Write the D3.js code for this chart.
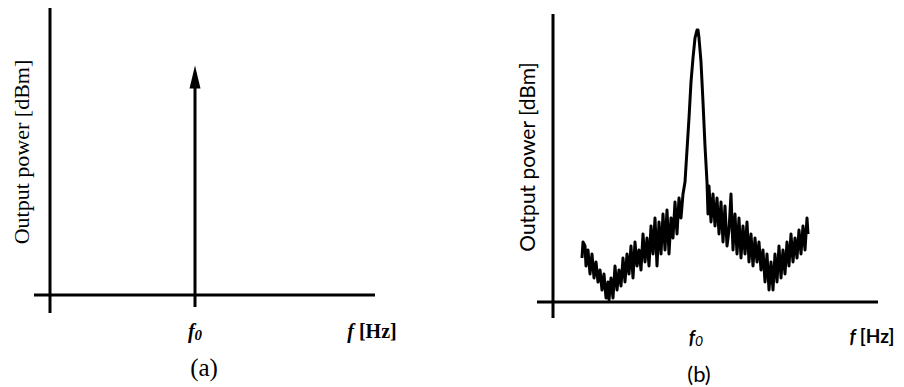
<!DOCTYPE html>
<html>
<head>
<meta charset="utf-8">
<script src="https://cdn.jsdelivr.net/npm/d3@7"></script>
<style>
  html, body { margin: 0; padding: 0; background: #fff; }
  svg { display: block; }
</style>
</head>
<body>
<svg id="chart" width="904" height="387"></svg>
<script>
// (a) ideal oscillator: a single spectral line at f0 (relative level)
const idealLineLevel = 80;

// (b) measured spectrum: offset from f0 (arbitrary frequency units) and output power (relative dB)
const offsetB = [-116,-115,-113,-112,-110,-108,-106,-104,-102,-100,-98,-96,-94,-92,-90,-89,-87,-85,-83,-81,
  -79,-77,-75,-73,-71,-69,-67,-65,-63,-61,-59,-57,-55,-53,-51,-49,-47,-45,-43,-41,
  -39,-37,-35,-33,-31,-29,-27,-25,-23,-21,-19,-17,-15,-13,-11,-9,-7,-5,-3,-1,
  0,1,3,5,7,9,10,11,13,15,17,19,21,23,25,27,29,31,33,35,
  37,39,41,43,45,47,49,51,53,55,57,59,61,63,65,67,69,71,73,75,
  77,79,81,83,85,87,89,91,93,95,97,99,101,103,105,107,109,110];
const powerB = [11,15,14,9,13,7,12,6,10,5,8,3,7,1,5,0.5,6,1,9,3,
  8,4,11,5,12,7,14,6,15,9,13,8,17,10,16,9,19,12,21,9,
  20,12,22,13,23,12,21,16,25,17,26,21,27,30,38,46,55,61,66,68,
  68,66,60,50,39,30,22,29,20,27,19,26,17,25,15,24,14,18,27,13,
  22,12,21,11,19,12,20,10,17,9,16,10,15,8,13,5,12,3,10,3,
  12,5,14,6,13,7,15,9,17,10,16,11,18,12,19,13,21,17];

// axis labels
const yLabel = "Output power [dBm]";
const panelLabels = ["(a)", "(b)"];

const svg = d3.select("#chart");
const ink = "#000";

// ---------- panel (a) ----------
const xa = d3.scaleLinear().domain([-145, 180]).range([50, 375]);
const ya = d3.scaleLinear().domain([0, 100]).range([295, 8]);
const ga = svg.append("g").attr("font-family", "'Liberation Serif', 'Times New Roman', serif");

// axes
ga.append("line").attr("x1", xa(-145)).attr("x2", xa(-145)).attr("y1", ya(100)).attr("y2", ya(0) + 18)
  .attr("stroke", ink).attr("stroke-width", 3);
ga.append("line").attr("x1", xa(-145) - 16).attr("x2", xa(180)).attr("y1", ya(0)).attr("y2", ya(0))
  .attr("stroke", ink).attr("stroke-width", 3);

// spectral line at f0 with arrow head
const headH = 23, headW = 11;
ga.append("line").attr("x1", xa(0)).attr("x2", xa(0)).attr("y1", ya(0) + 12).attr("y2", ya(idealLineLevel) + headH - 2)
  .attr("stroke", ink).attr("stroke-width", 3);
ga.append("path")
  .attr("d", `M${xa(0)},${ya(idealLineLevel)} L${xa(0) + headW / 2},${ya(idealLineLevel) + headH} L${xa(0) - headW / 2},${ya(idealLineLevel) + headH} Z`)
  .attr("fill", ink);

// texts
ga.append("text").attr("transform", `translate(29,152) rotate(-90)`).attr("text-anchor", "middle")
  .attr("font-size", 22).text(yLabel);
const f0a = ga.append("text").attr("x", xa(0)).attr("y", 338).attr("text-anchor", "middle")
  .attr("font-size", 20).attr("font-style", "italic").attr("font-weight", "bold");
f0a.append("tspan").text("f");
f0a.append("tspan").attr("font-size", 15).attr("dy", 2).text("0");
const fha = ga.append("text").attr("x", 372).attr("y", 338).attr("text-anchor", "middle").attr("font-size", 20);
fha.append("tspan").attr("font-style", "italic").attr("font-weight", "bold").text("f ");
fha.append("tspan").attr("font-weight", "bold").text("[Hz]");
ga.append("text").attr("x", 204).attr("y", 376).attr("text-anchor", "middle").attr("font-size", 25).text(panelLabels[0]);

// ---------- panel (b) ----------
const xb = d3.scaleLinear().domain([-145, 180]).range([553, 878]);
const yb = d3.scaleLinear().domain([0, 72]).range([302, 14]);
const gb = svg.append("g").attr("font-family", "Lato, 'Open Sans', sans-serif");

gb.append("line").attr("x1", xb(-145)).attr("x2", xb(-145)).attr("y1", yb(72)).attr("y2", yb(0) + 16)
  .attr("stroke", ink).attr("stroke-width", 3);
gb.append("line").attr("x1", xb(-145) - 16).attr("x2", xb(180)).attr("y1", yb(0)).attr("y2", yb(0))
  .attr("stroke", ink).attr("stroke-width", 3);

const spectrum = offsetB.map((f, i) => [f, powerB[i]]);
gb.append("path").datum(spectrum)
  .attr("d", d3.line().x(d => xb(d[0])).y(d => yb(d[1])))
  .attr("fill", "none").attr("stroke", ink).attr("stroke-width", 3).attr("stroke-linejoin", "round");

gb.append("text").attr("transform", `translate(535,157) rotate(-90)`).attr("text-anchor", "middle")
  .attr("font-size", 21).text(yLabel);
const f0b = gb.append("text").attr("x", 696).attr("y", 344).attr("text-anchor", "middle")
  .attr("font-size", 19).attr("font-style", "italic").attr("font-weight", "bold");
f0b.append("tspan").text("f");
f0b.append("tspan").attr("font-size", 14).attr("dy", 2).attr("font-weight", "normal").text("0");
const fhb = gb.append("text").attr("x", 872).attr("y", 343).attr("text-anchor", "middle").attr("font-size", 19).attr("font-weight", "bold");
fhb.append("tspan").attr("font-style", "italic").text("f ");
fhb.append("tspan").text("[Hz]");
gb.append("text").attr("x", 699).attr("y", 382).attr("text-anchor", "middle").attr("font-size", 22).text(panelLabels[1]);
</script>
</body>
</html>
